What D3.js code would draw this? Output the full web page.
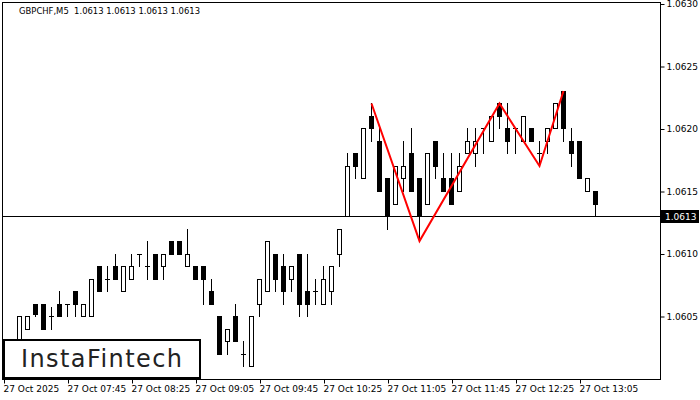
<!DOCTYPE html>
<html><head><meta charset="utf-8">
<script src="https://cdn.jsdelivr.net/npm/d3@7"></script>
<style>
html,body{margin:0;padding:0;background:#fff;}
svg{display:block;}
text{font-family:"DejaVu Sans",sans-serif;}
</style></head>
<body><svg id="c" width="700" height="400"></svg>
<script>
const symbolTitle = "GBPCHF,M5  1.0613 1.0613 1.0613 1.0613";
const timeLabels = ["27 Oct 2025","27 Oct 07:45","27 Oct 08:25","27 Oct 09:05","27 Oct 09:45","27 Oct 10:25","27 Oct 11:05","27 Oct 11:45","27 Oct 12:25","27 Oct 13:05"];
const priceTicks = [1.0605,1.0610,1.0615,1.0620,1.0625,1.0630];
const currentPrice = 1.0613;
const opens  = [1.0601,1.0602,1.0602,1.0604,1.0606,1.0606,1.0605,1.0606,1.0606,1.0607,1.0605,1.0605,1.0609,1.0608,1.0609,1.0607,1.0608,1.0610,1.0609,1.0610,1.0609,1.0611,1.0611,1.0609,1.0609,1.0609,1.0607,1.0605,1.0603,1.0605,1.0602,1.0601,1.0606,1.0607,1.0610,1.0609,1.0608,1.0610,1.0607,1.0607,1.0606,1.0607,1.0610,1.0613,1.0618,1.0616,1.0621,1.0619,1.0616,1.0614,1.0616,1.0618,1.0616,1.0614,1.0619,1.0616,1.0616,1.0615,1.0618,1.0618,1.0620,1.0619,1.0622,1.0620,1.0620,1.0619,1.0620,1.0618,1.0619,1.0620,1.0623,1.0619,1.0619,1.0615,1.0615];
const highs  = [1.0602,1.0603,1.0605,1.0605,1.0606,1.0606,1.06057,1.0607,1.0606,1.0607,1.0606,1.0608,1.0609,1.0609,1.0610,1.0609,1.0610,1.0610,1.0611,1.0610,1.0610,1.0611,1.0611,1.0612,1.0609,1.0609,1.0608,1.0605,1.0604,1.0606,1.0603,1.0605,1.0608,1.0611,1.0610,1.0610,1.0609,1.0610,1.0610,1.0608,1.0609,1.0609,1.0612,1.0618,1.0618,1.0620,1.0622,1.0620,1.0616,1.0617,1.0619,1.0620,1.0616,1.0618,1.0619,1.0618,1.0618,1.0618,1.0620,1.0620,1.0620,1.0621,1.0622,1.0622,1.0620,1.0621,1.0620,1.0619,1.0620,1.0622,1.0623,1.0620,1.0619,1.0616,1.0615];
const lows   = [1.0600,1.0601,1.0602,1.0604,1.0605,1.0604,1.0604,1.0605,1.0605,1.0605,1.0605,1.0605,1.0607,1.0607,1.0608,1.0607,1.0608,1.0609,1.0608,1.0608,1.0608,1.0610,1.0610,1.0609,1.0608,1.0606,1.0606,1.0602,1.0602,1.0603,1.0601,1.0601,1.0605,1.0607,1.0607,1.0606,1.0607,1.0605,1.0605,1.0606,1.0606,1.0606,1.0609,1.0613,1.0616,1.0616,1.0619,1.0615,1.0612,1.0614,1.0615,1.0615,1.0611,1.0614,1.0616,1.0615,1.0614,1.0615,1.0618,1.0617,1.0618,1.0619,1.0620,1.0618,1.0618,1.0619,1.0619,1.0617,1.0618,1.0620,1.0619,1.0617,1.0616,1.0615,1.0613];
const closes = [1.0602,1.0602,1.0605,1.0605,1.06052,1.0604,1.0605,1.0605,1.0606,1.0606,1.0606,1.0608,1.0607,1.0608,1.0608,1.0609,1.0609,1.0610,1.0609,1.0608,1.0610,1.0610,1.0610,1.0610,1.0608,1.0608,1.0606,1.0602,1.0604,1.0603,1.0602,1.0605,1.0608,1.0611,1.0608,1.0607,1.0609,1.0606,1.0606,1.0607,1.0608,1.0609,1.0612,1.0617,1.0617,1.0620,1.0620,1.0615,1.0613,1.0617,1.0617,1.0615,1.0613,1.0618,1.0617,1.0615,1.0614,1.0617,1.0619,1.0619,1.0620,1.0621,1.0621,1.0619,1.0620,1.0621,1.0619,1.0618,1.0620,1.0622,1.0620,1.0618,1.0616,1.0616,1.0614];
const patternBars = [46,52,62,67,70];
const patternPrices = [1.0622,1.0611,1.0622,1.0617,1.0623];
const logoText = "InstaFintech";

const svg = d3.select("#c");
const L = 3, R = 660, T = 3, B = 379;
const n = opens.length;
const x = d3.scaleLinear().domain([0, n-1]).range([3.5, 3.5 + 8*(n-1)]);
const y = d3.scaleLinear().domain([1.0600, 1.0630]).range([378.5, 3.5]);
const ry = v => Math.round(y(v));

svg.append("defs").append("clipPath").attr("id","plot")
  .append("rect").attr("x", L).attr("y", T).attr("width", R-L).attr("height", B-T);

const bars = d3.range(n).map(i => ({i, o:opens[i], h:highs[i], l:lows[i], c:closes[i]}));
const g = svg.append("g").attr("clip-path","url(#plot)");

// wicks
g.selectAll("line.w").data(bars).join("line")
  .attr("x1", d => x(d.i)).attr("x2", d => x(d.i))
  .attr("y1", d => ry(d.h)).attr("y2", d => ry(d.l)+1)
  .attr("stroke", "#000").attr("stroke-width", 1);

// bodies
bars.forEach(d => {
  const top = ry(Math.max(d.o,d.c)), bot = ry(Math.min(d.o,d.c));
  const cx = x(d.i);
  if (top === bot) {
    g.append("line").attr("x1", cx-2.5).attr("x2", cx+2.5)
      .attr("y1", top+0.5).attr("y2", top+0.5).attr("stroke","#000");
  } else if (d.c > d.o) {
    g.append("rect").attr("x", cx-2).attr("y", top+0.5).attr("width", 4).attr("height", bot-top)
      .attr("fill","#fff").attr("stroke","#000").attr("stroke-width",1);
  } else {
    g.append("rect").attr("x", cx-2.5).attr("y", top).attr("width", 5).attr("height", bot-top+1)
      .attr("fill","#000");
  }
});

// current price line
svg.append("line").attr("x1", L).attr("x2", R).attr("y1", ry(currentPrice)+0.5).attr("y2", ry(currentPrice)+0.5)
  .attr("stroke","#000").attr("stroke-width",1);

// pattern
svg.append("path")
  .datum(patternBars.map((b,k)=>[x(b), y(patternPrices[k])]))
  .attr("d", d3.line())
  .attr("fill","none").attr("stroke","#ff0000").attr("stroke-width",2);

// frame
svg.append("rect").attr("x", L-0.5).attr("y", T-0.5).attr("width", R-L+1).attr("height", B-T+1)
  .attr("fill","none").attr("stroke","#000");

// y axis
const yAxis = d3.axisRight(y).tickValues(priceTicks).tickFormat(d3.format(".4f")).tickSize(4).tickPadding(2);
const ya = svg.append("g").attr("transform", `translate(${R+0.5},0.5)`).call(yAxis);
ya.select(".domain").remove();
ya.selectAll("text").attr("font-size", 9).attr("font-family","DejaVu Sans").attr("fill","#000");

// current price label
svg.append("rect").attr("x", R+1).attr("y", ry(currentPrice)-6).attr("width", 38).attr("height", 13).attr("fill","#000");
svg.append("text").attr("x", R+5).attr("y", ry(currentPrice)+4).attr("fill","#fff")
  .attr("font-size", 9).text(d3.format(".4f")(currentPrice));

// x axis
const tickIdx = timeLabels.map((_,k)=>k*8);
const xAxis = d3.axisBottom(x).tickValues(tickIdx).tickFormat((d,k)=>timeLabels[k]).tickSize(4).tickPadding(2);
const xa = svg.append("g").attr("transform", `translate(0.5,${B+0.5})`).call(xAxis);
xa.select(".domain").remove();
xa.selectAll("text").attr("text-anchor","start").attr("dx", -1).attr("font-size", 9).attr("font-family","DejaVu Sans").attr("fill","#000");

// title
svg.append("text").attr("x", 19).attr("y", 14).attr("font-size", 9).attr("fill","#000")
  .style("white-space","pre").attr("textLength", 181).attr("lengthAdjust","spacingAndGlyphs").text(symbolTitle);

// logo
svg.append("rect").attr("x", 4).attr("y", 340).attr("width", 196).attr("height", 38)
  .attr("fill","#fff").attr("stroke","#000").attr("stroke-width",2);
svg.append("text").attr("x", 21).attr("y", 367).attr("font-family","Lato, 'Open Sans', sans-serif")
  .attr("font-size", 24).attr("font-weight", 500).attr("fill","#222").attr("textLength", 161).text(logoText);
</script></body></html>
